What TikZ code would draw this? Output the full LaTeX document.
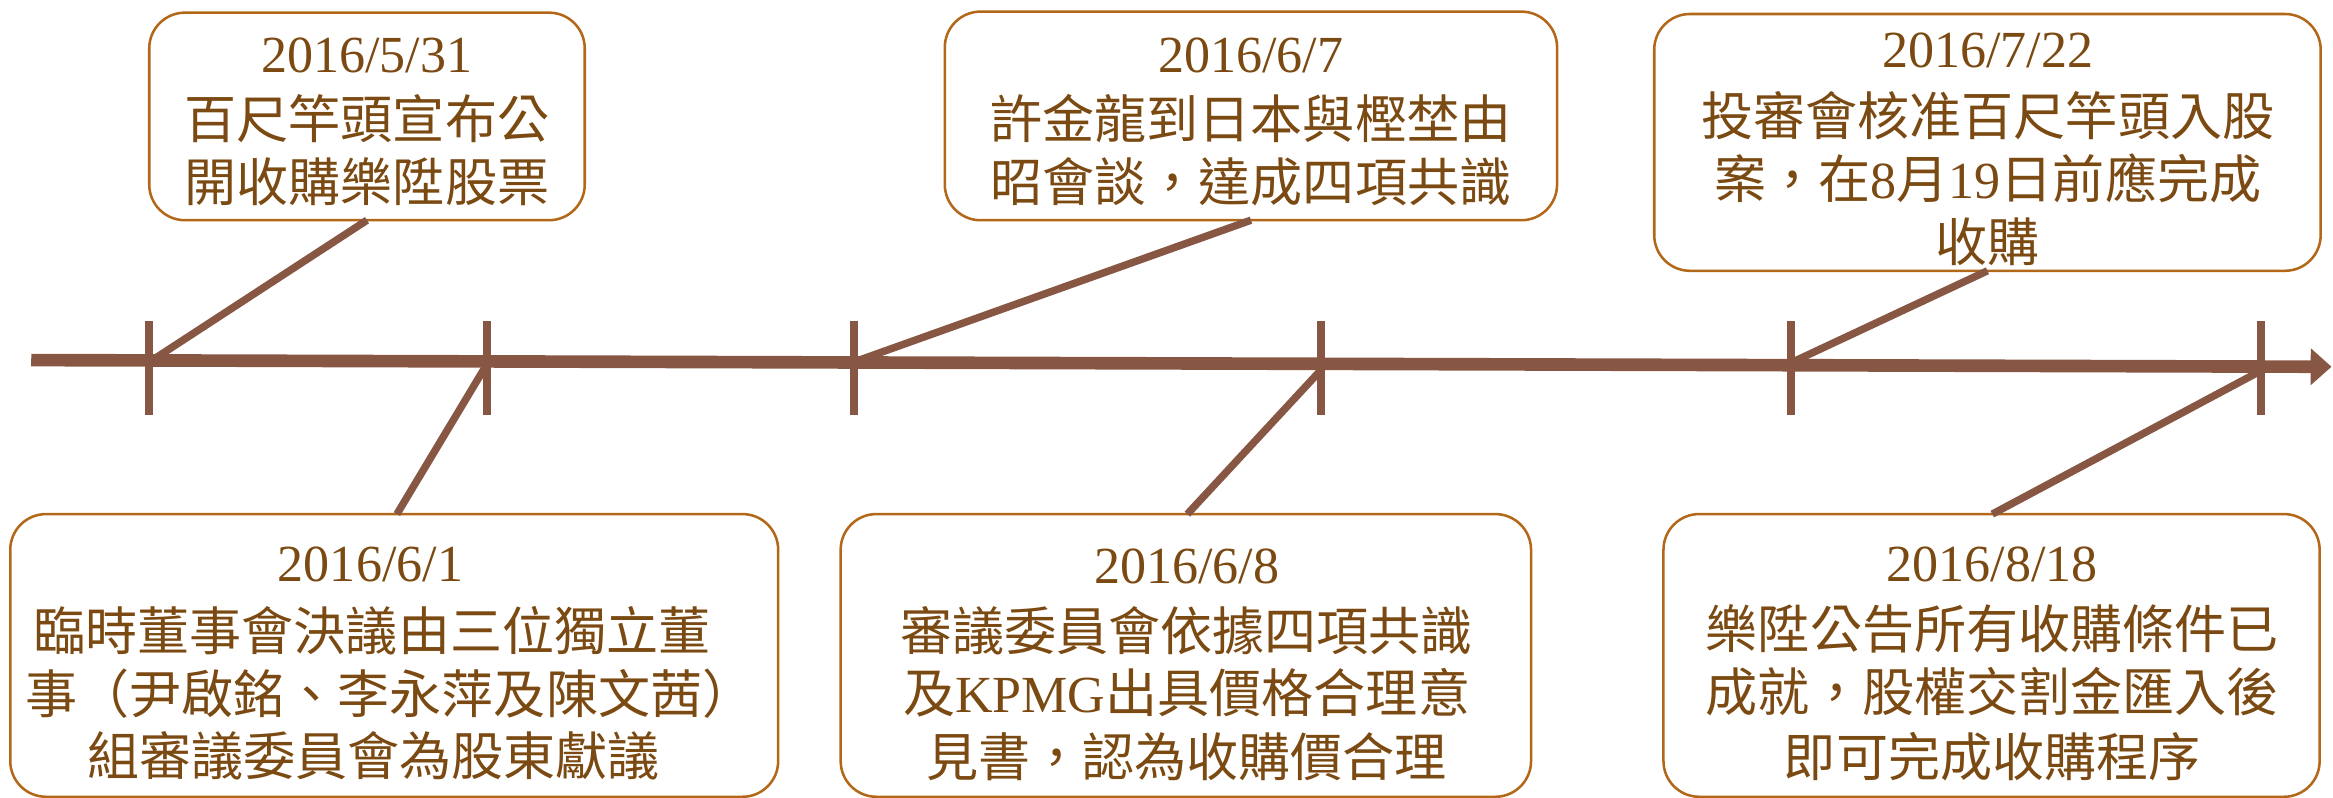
\documentclass[tikz,border=0pt]{standalone}
\usepackage{fontspec}
\setmainfont{Noto Sans CJK TC}
\newfontfamily\latf{Liberation Serif}
\usetikzlibrary{arrows.meta}
\definecolor{txt}{RGB}{123,74,18}
\definecolor{boxc}{RGB}{178,104,24}
\definecolor{linec}{RGB}{135,87,68}
\begin{document}
\begin{tikzpicture}[x=1pt,y=-1pt,
  box/.style={draw=boxc,line width=1.7pt,rounded corners=24pt,inner sep=0pt,outer sep=0pt},
  tx/.style={anchor=base,inner sep=0pt,text=txt,font=\fontsize{35}{40}\selectfont},
  mainline/.style={draw=linec,line width=8.5pt},
  tickmark/.style={draw=linec,line width=5.4pt},
  conn/.style={draw=linec,line width=5pt}]
\useasboundingbox (0,0) rectangle (1568,536.3);

% main time line
\coordinate (ls) at (21,242);
\coordinate (le) at (1567,246.5);
\draw[mainline,-{Triangle[length=14pt,width=24pt]}] (ls) -- (le);

% ticks
\foreach \x in {100.3,327,574,888,1204,1519.6}
  \draw[tickmark] (\x,216) -- (\x,279);

% connector ends on the time line
\coordinate (p1) at (104,241);
\coordinate (p2) at (326.5,246);
\coordinate (p3) at (579,241.5);
\coordinate (p4) at (887.5,249);
\coordinate (p5) at (1205.5,243);
\coordinate (p6) at (1518,250);

% boxes
\node[box,minimum width=292.7pt,minimum height=139.5pt] (b1) at (246.65,78.25) {};
\node[box,minimum width=411.5pt,minimum height=140.2pt] (b3) at (840.75,77.9) {};
\node[box,minimum width=447.9pt,minimum height=172.6pt] (b5) at (1335.75,95.7) {};
\node[box,minimum width=516.1pt,minimum height=190pt] (b2) at (264.95,440.5) {};
\node[box,minimum width=464pt,minimum height=190pt] (b4) at (797,440.5) {};
\node[box,minimum width=441pt,minimum height=190pt] (b6) at (1338.5,440.5) {};

% connectors
\draw[conn] (b1.south) -- (p1);
\draw[conn] (p2) -- ([xshift=1.8pt]b2.north);
\draw[conn] (b3.south) -- (p3);
\draw[conn] (p4) -- ([xshift=1pt]b4.north);
\draw[conn] (b5.south) -- (p5);
\draw[conn] (p6) -- ([xshift=0.5pt]b6.north);

% texts: 2016/5/31
\node[tx] (t1a) at (246.6,48.5) {\latf 2016/5/31};
\node[tx] (t1b) at (246.6,93) {百尺竿頭宣布公};
\node[tx] (t1c) at (246.6,135.5) {開收購樂陞股票};

% 2016/6/7
\node[tx] (t3a) at (840.7,48.8) {\latf 2016/6/7};
\node[tx] (t3b) at (840.7,93) {許金龍到日本與樫埜由};
\node[tx] (t3c) at (840.7,135.5) {昭會談，達成四項共識};

% 2016/7/22
\node[tx] (t5a) at (1336,45.5) {\latf 2016/7/22};
\node[tx] (t5b) at (1336,91) {投審會核准百尺竿頭入股};
\node[tx] (t5c) at (1336,133.5) {案，在{\latf 8}月{\latf 19}日前應完成};
\node[tx] (t5d) at (1336,176) {收購};

% 2016/6/1
\node[tx] (t2a) at (249,391) {\latf 2016/6/1};
\node[tx] (t2b) at (250,437) {臨時董事會決議由三位獨立董};
\node[tx] (t2c) at (262,479.5) {事（尹啟銘、李永萍及陳文茜）};
\node[tx] (t2d) at (251,521) {組審議委員會為股東獻議};

% 2016/6/8
\node[tx] (t4a) at (797.5,392) {\latf 2016/6/8};
\node[tx] (t4b) at (797.5,437) {審議委員會依據四項共識};
\node[tx] (t4c) at (797.5,479) {及{\latf KPMG}出具價格合理意};
\node[tx] (t4d) at (797.5,522) {見書，認為收購價合理};

% 2016/8/18
\node[tx] (t6a) at (1339,391) {\latf 2016/8/18};
\node[tx] (t6b) at (1339,436) {樂陞公告所有收購條件已};
\node[tx] (t6c) at (1339,478.5) {成就，股權交割金匯入後};
\node[tx] (t6d) at (1339,522) {即可完成收購程序};
\end{tikzpicture}
\end{document}
